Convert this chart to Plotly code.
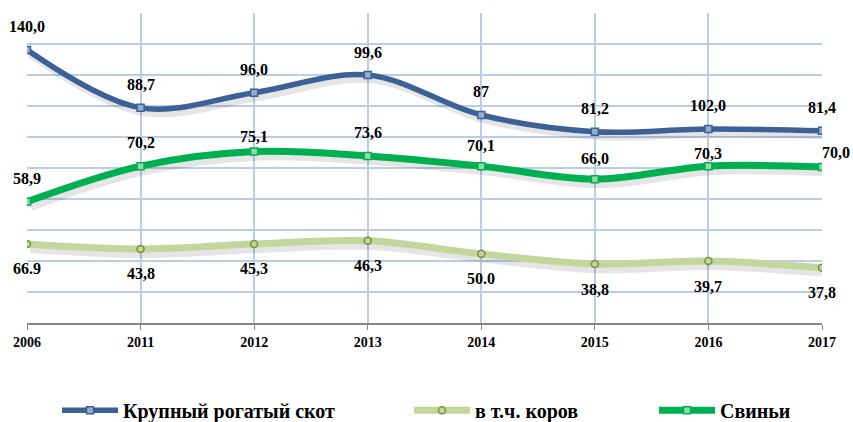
import plotly.graph_objects as go

years = ["2006", "2011", "2012", "2013", "2014", "2015", "2016", "2017"]

# plotted positions (axis 0..100)
cattle_y = [88.1, 69.4, 74.3, 80.0, 67.1, 61.7, 62.6, 62.0]
cows_y = [25.5, 23.9, 25.5, 26.5, 22.3, 19.0, 20.0, 17.8]
pigs_y = [39.1, 50.6, 55.3, 53.9, 50.6, 46.4, 50.6, 50.3]

# data labels as printed
cattle_lbl = ["140,0", "88,7", "96,0", "99,6", "87", "81,2", "102,0", "81,4"]
cows_lbl = ["66.9", "43,8", "45,3", "46,3", "50.0", "38,8", "39,7", "37,8"]
pigs_lbl = ["58,9", "70,2", "75,1", "73,6", "70,1", "66,0", "70,3", "70,0"]

names = ["Крупный рогатый скот", "в т.ч. коров", "Свиньи"]

# label offsets (px) – style only
cattle_off = [(0, 23)] * 8
cows_off = [(0, -25)] * 8
pigs_off = [(0, 23), (0, 24), (0, 15), (0, 23), (0, 21), (0, 21), (0, 13), (14, 15)]

xi = list(range(len(years)))
FONT = "Liberation Serif"

fig = go.Figure()

series = [
    (cattle_y, cattle_lbl, cattle_off, names[0], "#3B6196", 5.5, "square", "#95AECB", "#3B6196", 7, "legend"),
    (cows_y, cows_lbl, cows_off, names[1], "#C3D69B", 7, "circle", "#C3D69B", "#77933C", 7, "legend2"),
    (pigs_y, pigs_lbl, pigs_off, names[2], "#00B050", 7, "square", "#8FDCA8", "#00B050", 7, "legend3"),
]

# shadows
for ys, _, _, _, col, w, *_ in series:
    fig.add_trace(go.Scatter(
        x=[v + 0.03 for v in xi], y=[v - 1.3 for v in ys], mode="lines",
        line=dict(color="rgba(0,0,0,0.10)", width=w + 3, shape="spline", smoothing=1),
        hoverinfo="skip", showlegend=False))

for ys, lbls, offs, nm, col, w, sym, mfill, mline, ms, lg in series:
    fig.add_trace(go.Scatter(
        x=xi, y=ys, mode="lines+markers", name=nm, legend=lg,
        line=dict(color=col, width=w, shape="spline", smoothing=1),
        marker=dict(symbol=sym, size=ms, color=mfill, line=dict(color=mline, width=1.5)),
    ))
    for i, (yy, tt) in enumerate(zip(ys, lbls)):
        xs, ysft = offs[i]
        fig.add_annotation(x=xi[i], y=yy, text=tt, showarrow=False,
                           xshift=xs, yshift=ysft,
                           font=dict(family=FONT, size=16, color="black", weight="bold"))

leg_common = dict(orientation="h", yref="container", xref="container", y=0.028,
                  yanchor="middle", xanchor="left", itemwidth=56,
                  bgcolor="rgba(0,0,0,0)",
                  font=dict(family=FONT, size=20, color="black", weight="bold"))

fig.update_layout(
    width=853, height=422,
    margin=dict(l=27, r=31, t=13, b=99),
    paper_bgcolor="white", plot_bgcolor="white",
    showlegend=True,
    legend=dict(x=(61 - 4) / 853, **leg_common),
    legend2=dict(x=(413 - 4) / 853, **leg_common),
    legend3=dict(x=(658 - 4) / 853, **leg_common),
)
fig.update_xaxes(range=[0, 7], tickvals=xi, ticktext=years, showgrid=True,
                 gridcolor="#B9CDE5", gridwidth=1.5, showline=True, linecolor="#868686",
                 linewidth=1.5, ticks="outside", ticklen=5, tickcolor="#868686",
                 tickfont=dict(family=FONT, size=14, color="black", weight="bold"),
                 zeroline=False, mirror=False, layer="below traces")
fig.update_yaxes(range=[0, 100], dtick=10, showgrid=True, gridcolor="#B9CDE5",
                 gridwidth=1.5, showticklabels=False, zeroline=False, showline=False)

fig.write_html("out.html", config={"displayModeBar": False},
               post_script="document.body.style.margin='0';")
